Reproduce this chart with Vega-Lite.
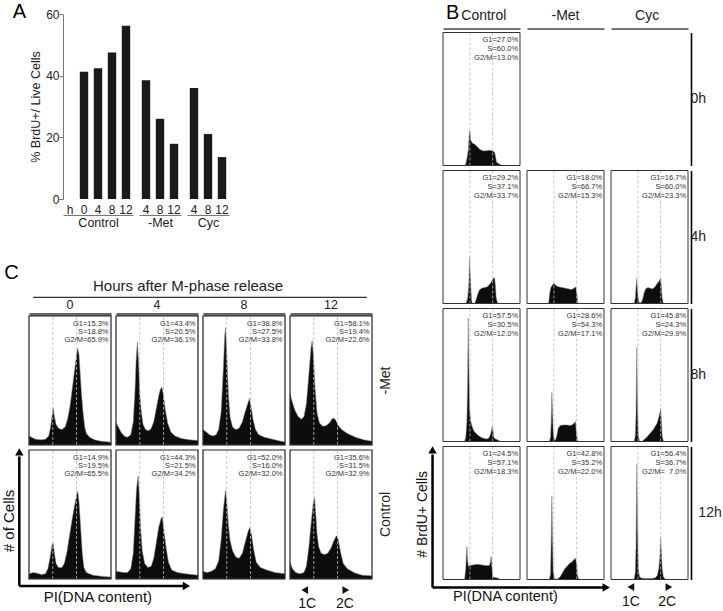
{
 "$schema": "https://vega.github.io/schema/vega-lite/v6.json",
 "padding": {"left": 2, "top": 2, "right": 0, "bottom": 0},
 "config": {"view": {"stroke": null}, "font": "Liberation Sans", "axis": {"grid": false}, "title": {"fontWeight": "normal", "font": "Liberation Sans"}, "header": {"labelFont": "Liberation Sans", "titleFont": "Liberation Sans"}},
 "datasets": {
  "a": [{"g":"Control","h":"0","v":41.3},{"g":"Control","h":"4","v":42.4},{"g":"Control","h":"8","v":47.5},{"g":"Control","h":"12","v":56.2},{"g":"-Met","h":"4","v":38.5},{"g":"-Met","h":"8","v":26.0},{"g":"-Met","h":"12","v":17.9},{"g":"Cyc","h":"4","v":36.0},{"g":"Cyc","h":"8","v":21.1},{"g":"Cyc","h":"12","v":13.6}],
  "bh": [{"c":"Control"},{"c":"-Met"},{"c":"Cyc"}],
  "b": [
   {"c":"Control","t":"0h","lab":["G1=27.0%","S=60.0%","G2/M=13.0%"]},
   {"c":"-Met","t":"0h"},
   {"c":"Cyc","t":"0h"},
   {"c":"Control","t":"4h","lab":["G1=29.2%","S=37.1%","G2/M=33.7%"]},
   {"c":"-Met","t":"4h","lab":["G1=18.0%","S=66.7%","G2/M=15.3%"]},
   {"c":"Cyc","t":"4h","lab":["G1=16.7%","S=60.0%","G2/M=23.3%"]},
   {"c":"Control","t":"8h","lab":["G1=57.5%","S=30.5%","G2/M=12.0%"]},
   {"c":"-Met","t":"8h","lab":["G1=28.6%","S=54.3%","G2/M=17.1%"]},
   {"c":"Cyc","t":"8h","lab":["G1=45.8%","S=24.3%","G2/M=29.9%"]},
   {"c":"Control","t":"12h","lab":["G1=24.5%","S=57.1%","G2/M=18.3%"]},
   {"c":"-Met","t":"12h","lab":["G1=42.8%","S=35.2%","G2/M=22.0%"]},
   {"c":"Cyc","t":"12h","lab":["G1=56.4%","S=36.7%","G2/M=\u00a0\u00a07.0%"]},
   {"c":"Control","t":"0h","x":0,"y":0},{"c":"Control","t":"0h","x":29,"y":0},{"c":"Control","t":"0h","x":31,"y":5},{"c":"Control","t":"0h","x":33,"y":12},{"c":"Control","t":"0h","x":34.2,"y":25},{"c":"Control","t":"0h","x":35,"y":26},{"c":"Control","t":"0h","x":36,"y":19},{"c":"Control","t":"0h","x":38,"y":17},{"c":"Control","t":"0h","x":41,"y":16},{"c":"Control","t":"0h","x":44,"y":14.5},{"c":"Control","t":"0h","x":48,"y":12},{"c":"Control","t":"0h","x":52,"y":11},{"c":"Control","t":"0h","x":56,"y":11},{"c":"Control","t":"0h","x":60,"y":11.5},{"c":"Control","t":"0h","x":64,"y":11},{"c":"Control","t":"0h","x":67,"y":10},{"c":"Control","t":"0h","x":68.5,"y":6},{"c":"Control","t":"0h","x":69.5,"y":2.5},{"c":"Control","t":"0h","x":72,"y":1.5},{"c":"Control","t":"0h","x":75,"y":0.5},{"c":"Control","t":"0h","x":77,"y":0},{"c":"Control","t":"0h","x":100,"y":0},
   {"c":"Control","t":"4h","x":0,"y":0},{"c":"Control","t":"4h","x":30,"y":0},{"c":"Control","t":"4h","x":32,"y":4},{"c":"Control","t":"4h","x":33.5,"y":14},{"c":"Control","t":"4h","x":34.5,"y":35},{"c":"Control","t":"4h","x":35.5,"y":20},{"c":"Control","t":"4h","x":37,"y":3},{"c":"Control","t":"4h","x":38,"y":0},{"c":"Control","t":"4h","x":41,"y":0},{"c":"Control","t":"4h","x":43,"y":3},{"c":"Control","t":"4h","x":45,"y":7},{"c":"Control","t":"4h","x":47,"y":10},{"c":"Control","t":"4h","x":50,"y":11.5},{"c":"Control","t":"4h","x":54,"y":12},{"c":"Control","t":"4h","x":57,"y":12.5},{"c":"Control","t":"4h","x":60,"y":14},{"c":"Control","t":"4h","x":63,"y":16.5},{"c":"Control","t":"4h","x":65.5,"y":19},{"c":"Control","t":"4h","x":67,"y":19.5},{"c":"Control","t":"4h","x":68,"y":14},{"c":"Control","t":"4h","x":69,"y":5},{"c":"Control","t":"4h","x":70.5,"y":1},{"c":"Control","t":"4h","x":72,"y":0},{"c":"Control","t":"4h","x":100,"y":0},
   {"c":"-Met","t":"4h","x":0,"y":0},{"c":"-Met","t":"4h","x":28,"y":0},{"c":"-Met","t":"4h","x":29.5,"y":8},{"c":"-Met","t":"4h","x":31,"y":12},{"c":"-Met","t":"4h","x":33,"y":14},{"c":"-Met","t":"4h","x":35,"y":15},{"c":"-Met","t":"4h","x":37,"y":14},{"c":"-Met","t":"4h","x":39,"y":13},{"c":"-Met","t":"4h","x":42,"y":12.5},{"c":"-Met","t":"4h","x":46,"y":12},{"c":"-Met","t":"4h","x":50,"y":11.5},{"c":"-Met","t":"4h","x":54,"y":11},{"c":"-Met","t":"4h","x":57,"y":10.5},{"c":"-Met","t":"4h","x":60,"y":11},{"c":"-Met","t":"4h","x":62,"y":12},{"c":"-Met","t":"4h","x":63.5,"y":12.5},{"c":"-Met","t":"4h","x":65,"y":6},{"c":"-Met","t":"4h","x":66,"y":0},{"c":"-Met","t":"4h","x":100,"y":0},
   {"c":"Cyc","t":"4h","x":0,"y":0},{"c":"Cyc","t":"4h","x":30,"y":0},{"c":"Cyc","t":"4h","x":31.5,"y":4},{"c":"Cyc","t":"4h","x":32.5,"y":12},{"c":"Cyc","t":"4h","x":33.3,"y":19},{"c":"Cyc","t":"4h","x":34.2,"y":12},{"c":"Cyc","t":"4h","x":35.5,"y":3},{"c":"Cyc","t":"4h","x":37,"y":0.5},{"c":"Cyc","t":"4h","x":39,"y":0.5},{"c":"Cyc","t":"4h","x":41,"y":3},{"c":"Cyc","t":"4h","x":43,"y":8},{"c":"Cyc","t":"4h","x":45,"y":11},{"c":"Cyc","t":"4h","x":48,"y":12},{"c":"Cyc","t":"4h","x":51,"y":11.5},{"c":"Cyc","t":"4h","x":54,"y":11},{"c":"Cyc","t":"4h","x":57,"y":12.5},{"c":"Cyc","t":"4h","x":60,"y":15},{"c":"Cyc","t":"4h","x":62.5,"y":17},{"c":"Cyc","t":"4h","x":64.5,"y":19},{"c":"Cyc","t":"4h","x":65.5,"y":12},{"c":"Cyc","t":"4h","x":66.5,"y":4},{"c":"Cyc","t":"4h","x":68,"y":0},{"c":"Cyc","t":"4h","x":100,"y":0},
   {"c":"Control","t":"8h","x":0,"y":0},{"c":"Control","t":"8h","x":28,"y":0},{"c":"Control","t":"8h","x":29.5,"y":3},{"c":"Control","t":"8h","x":31,"y":15},{"c":"Control","t":"8h","x":32,"y":45},{"c":"Control","t":"8h","x":32.7,"y":93},{"c":"Control","t":"8h","x":33.5,"y":60},{"c":"Control","t":"8h","x":34.5,"y":25},{"c":"Control","t":"8h","x":36,"y":15},{"c":"Control","t":"8h","x":38,"y":11},{"c":"Control","t":"8h","x":40,"y":8},{"c":"Control","t":"8h","x":43,"y":6},{"c":"Control","t":"8h","x":46,"y":4.5},{"c":"Control","t":"8h","x":50,"y":3},{"c":"Control","t":"8h","x":55,"y":2},{"c":"Control","t":"8h","x":58,"y":2},{"c":"Control","t":"8h","x":60,"y":3},{"c":"Control","t":"8h","x":62,"y":6},{"c":"Control","t":"8h","x":64,"y":11.5},{"c":"Control","t":"8h","x":65,"y":8},{"c":"Control","t":"8h","x":66,"y":3},{"c":"Control","t":"8h","x":68,"y":2},{"c":"Control","t":"8h","x":72,"y":1},{"c":"Control","t":"8h","x":75,"y":0},{"c":"Control","t":"8h","x":100,"y":0},
   {"c":"-Met","t":"8h","x":0,"y":0},{"c":"-Met","t":"8h","x":29,"y":0},{"c":"-Met","t":"8h","x":30.5,"y":3},{"c":"-Met","t":"8h","x":31.5,"y":15},{"c":"-Met","t":"8h","x":32.3,"y":37},{"c":"-Met","t":"8h","x":33,"y":25},{"c":"-Met","t":"8h","x":34,"y":8},{"c":"-Met","t":"8h","x":35,"y":2},{"c":"-Met","t":"8h","x":37,"y":1},{"c":"-Met","t":"8h","x":38.5,"y":4},{"c":"-Met","t":"8h","x":40.5,"y":10},{"c":"-Met","t":"8h","x":43,"y":12},{"c":"-Met","t":"8h","x":47,"y":12.5},{"c":"-Met","t":"8h","x":52,"y":12.5},{"c":"-Met","t":"8h","x":56,"y":12},{"c":"-Met","t":"8h","x":60,"y":13},{"c":"-Met","t":"8h","x":62,"y":14.5},{"c":"-Met","t":"8h","x":63,"y":15},{"c":"-Met","t":"8h","x":64,"y":8},{"c":"-Met","t":"8h","x":65.5,"y":1},{"c":"-Met","t":"8h","x":67,"y":0},{"c":"-Met","t":"8h","x":100,"y":0},
   {"c":"Cyc","t":"8h","x":0,"y":0},{"c":"Cyc","t":"8h","x":30,"y":0},{"c":"Cyc","t":"8h","x":31.5,"y":4},{"c":"Cyc","t":"8h","x":32.5,"y":20},{"c":"Cyc","t":"8h","x":33.5,"y":71},{"c":"Cyc","t":"8h","x":34.3,"y":30},{"c":"Cyc","t":"8h","x":35.5,"y":4},{"c":"Cyc","t":"8h","x":37,"y":0.5},{"c":"Cyc","t":"8h","x":40,"y":0},{"c":"Cyc","t":"8h","x":43,"y":1.5},{"c":"Cyc","t":"8h","x":46,"y":3},{"c":"Cyc","t":"8h","x":49,"y":5},{"c":"Cyc","t":"8h","x":52,"y":7},{"c":"Cyc","t":"8h","x":55,"y":9},{"c":"Cyc","t":"8h","x":58,"y":12},{"c":"Cyc","t":"8h","x":60,"y":14},{"c":"Cyc","t":"8h","x":62,"y":18},{"c":"Cyc","t":"8h","x":63.5,"y":22},{"c":"Cyc","t":"8h","x":64.5,"y":25},{"c":"Cyc","t":"8h","x":65.5,"y":15},{"c":"Cyc","t":"8h","x":66.5,"y":4},{"c":"Cyc","t":"8h","x":68,"y":0.5},{"c":"Cyc","t":"8h","x":70,"y":0},{"c":"Cyc","t":"8h","x":100,"y":0},
   {"c":"Control","t":"12h","x":0,"y":0},{"c":"Control","t":"12h","x":28,"y":0},{"c":"Control","t":"12h","x":29.5,"y":8},{"c":"Control","t":"12h","x":31,"y":25},{"c":"Control","t":"12h","x":32,"y":14},{"c":"Control","t":"12h","x":33,"y":10},{"c":"Control","t":"12h","x":35,"y":10.5},{"c":"Control","t":"12h","x":40,"y":11},{"c":"Control","t":"12h","x":45,"y":11.5},{"c":"Control","t":"12h","x":50,"y":11},{"c":"Control","t":"12h","x":55,"y":10.5},{"c":"Control","t":"12h","x":60,"y":10.5},{"c":"Control","t":"12h","x":61.5,"y":13},{"c":"Control","t":"12h","x":62.5,"y":17.5},{"c":"Control","t":"12h","x":63.5,"y":10},{"c":"Control","t":"12h","x":64.5,"y":2},{"c":"Control","t":"12h","x":67,"y":1.5},{"c":"Control","t":"12h","x":72,"y":1},{"c":"Control","t":"12h","x":74,"y":0},{"c":"Control","t":"12h","x":100,"y":0},
   {"c":"-Met","t":"12h","x":0,"y":0},{"c":"-Met","t":"12h","x":29,"y":0},{"c":"-Met","t":"12h","x":30.5,"y":4},{"c":"-Met","t":"12h","x":31.5,"y":30},{"c":"-Met","t":"12h","x":32.3,"y":63},{"c":"-Met","t":"12h","x":33,"y":35},{"c":"-Met","t":"12h","x":34,"y":6},{"c":"-Met","t":"12h","x":35.5,"y":1},{"c":"-Met","t":"12h","x":38,"y":0},{"c":"-Met","t":"12h","x":40,"y":0.5},{"c":"-Met","t":"12h","x":43,"y":2},{"c":"-Met","t":"12h","x":46,"y":5},{"c":"-Met","t":"12h","x":49,"y":8},{"c":"-Met","t":"12h","x":52,"y":10},{"c":"-Met","t":"12h","x":55,"y":12},{"c":"-Met","t":"12h","x":58,"y":13},{"c":"-Met","t":"12h","x":61,"y":15},{"c":"-Met","t":"12h","x":63,"y":16},{"c":"-Met","t":"12h","x":64.5,"y":12},{"c":"-Met","t":"12h","x":65.5,"y":3},{"c":"-Met","t":"12h","x":67,"y":0.5},{"c":"-Met","t":"12h","x":69,"y":0},{"c":"-Met","t":"12h","x":100,"y":0},
   {"c":"Cyc","t":"12h","x":0,"y":0},{"c":"Cyc","t":"12h","x":30,"y":0},{"c":"Cyc","t":"12h","x":31.5,"y":5},{"c":"Cyc","t":"12h","x":32.5,"y":25},{"c":"Cyc","t":"12h","x":33.5,"y":87},{"c":"Cyc","t":"12h","x":34.5,"y":40},{"c":"Cyc","t":"12h","x":35.5,"y":8},{"c":"Cyc","t":"12h","x":37,"y":2},{"c":"Cyc","t":"12h","x":40,"y":1},{"c":"Cyc","t":"12h","x":45,"y":0.8},{"c":"Cyc","t":"12h","x":50,"y":0.8},{"c":"Cyc","t":"12h","x":55,"y":1},{"c":"Cyc","t":"12h","x":58,"y":1.5},{"c":"Cyc","t":"12h","x":60,"y":3},{"c":"Cyc","t":"12h","x":62,"y":8},{"c":"Cyc","t":"12h","x":63.5,"y":18},{"c":"Cyc","t":"12h","x":64.5,"y":32},{"c":"Cyc","t":"12h","x":65.5,"y":20},{"c":"Cyc","t":"12h","x":66.5,"y":8},{"c":"Cyc","t":"12h","x":68,"y":2},{"c":"Cyc","t":"12h","x":70,"y":0.5},{"c":"Cyc","t":"12h","x":72,"y":0},{"c":"Cyc","t":"12h","x":100,"y":0}
  ],
  "c": [
   {"r":"-Met","k":"0","lab":["G1=15.3%","S=18.8%","G2/M=65.9%"]},
   {"r":"-Met","k":"4","lab":["G1=43.4%","S=20.5%","G2/M=36.1%"]},
   {"r":"-Met","k":"8","lab":["G1=38.8%","S=27.5%","G2/M=33.8%"]},
   {"r":"-Met","k":"12","lab":["G1=58.1%","S=19.4%","G2/M=22.6%"]},
   {"r":"Control","k":"0","lab":["G1=14.9%","S=19.5%","G2/M=65.5%"]},
   {"r":"Control","k":"4","lab":["G1=44.3%","S=21.5%","G2/M=34.2%"]},
   {"r":"Control","k":"8","lab":["G1=52.0%","S=16.0%","G2/M=32.0%"]},
   {"r":"Control","k":"12","lab":["G1=35.6%","S=31.5%","G2/M=32.9%"]},
   {"r":"-Met","k":"0","x":0,"y":7},{"r":"-Met","k":"0","x":3,"y":6},{"r":"-Met","k":"0","x":8,"y":4.5},{"r":"-Met","k":"0","x":15,"y":4},{"r":"-Met","k":"0","x":20,"y":4.5},{"r":"-Met","k":"0","x":24,"y":7},{"r":"-Met","k":"0","x":26,"y":13},{"r":"-Met","k":"0","x":28,"y":22},{"r":"-Met","k":"0","x":29.5,"y":29},{"r":"-Met","k":"0","x":31,"y":22},{"r":"-Met","k":"0","x":33,"y":16},{"r":"-Met","k":"0","x":36,"y":13},{"r":"-Met","k":"0","x":40,"y":12},{"r":"-Met","k":"0","x":44,"y":14},{"r":"-Met","k":"0","x":47,"y":20},{"r":"-Met","k":"0","x":50,"y":30},{"r":"-Met","k":"0","x":53,"y":45},{"r":"-Met","k":"0","x":56,"y":60},{"r":"-Met","k":"0","x":58.5,"y":72},{"r":"-Met","k":"0","x":59.5,"y":75},{"r":"-Met","k":"0","x":61,"y":70},{"r":"-Met","k":"0","x":62.5,"y":55},{"r":"-Met","k":"0","x":64,"y":40},{"r":"-Met","k":"0","x":66,"y":25},{"r":"-Met","k":"0","x":68,"y":14},{"r":"-Met","k":"0","x":70,"y":9},{"r":"-Met","k":"0","x":74,"y":6},{"r":"-Met","k":"0","x":80,"y":4},{"r":"-Met","k":"0","x":88,"y":3},{"r":"-Met","k":"0","x":95,"y":2.5},{"r":"-Met","k":"0","x":100,"y":2},
   {"r":"-Met","k":"4","x":0,"y":17},{"r":"-Met","k":"4","x":3,"y":14},{"r":"-Met","k":"4","x":6,"y":10},{"r":"-Met","k":"4","x":10,"y":7},{"r":"-Met","k":"4","x":14,"y":6},{"r":"-Met","k":"4","x":18,"y":8},{"r":"-Met","k":"4","x":21,"y":18},{"r":"-Met","k":"4","x":23,"y":40},{"r":"-Met","k":"4","x":24.5,"y":65},{"r":"-Met","k":"4","x":26,"y":80},{"r":"-Met","k":"4","x":27.5,"y":65},{"r":"-Met","k":"4","x":29,"y":40},{"r":"-Met","k":"4","x":31,"y":25},{"r":"-Met","k":"4","x":33,"y":16},{"r":"-Met","k":"4","x":36,"y":12},{"r":"-Met","k":"4","x":40,"y":11},{"r":"-Met","k":"4","x":43,"y":13},{"r":"-Met","k":"4","x":46,"y":18},{"r":"-Met","k":"4","x":49,"y":28},{"r":"-Met","k":"4","x":52,"y":38},{"r":"-Met","k":"4","x":54,"y":43},{"r":"-Met","k":"4","x":56,"y":45},{"r":"-Met","k":"4","x":57.5,"y":40},{"r":"-Met","k":"4","x":60,"y":28},{"r":"-Met","k":"4","x":63,"y":17},{"r":"-Met","k":"4","x":67,"y":10},{"r":"-Met","k":"4","x":72,"y":7},{"r":"-Met","k":"4","x":80,"y":5},{"r":"-Met","k":"4","x":90,"y":4},{"r":"-Met","k":"4","x":100,"y":3.5},
   {"r":"-Met","k":"8","x":0,"y":12},{"r":"-Met","k":"8","x":4,"y":10},{"r":"-Met","k":"8","x":8,"y":8},{"r":"-Met","k":"8","x":12,"y":7},{"r":"-Met","k":"8","x":16,"y":8},{"r":"-Met","k":"8","x":19,"y":12},{"r":"-Met","k":"8","x":22,"y":25},{"r":"-Met","k":"8","x":24.5,"y":55},{"r":"-Met","k":"8","x":26.5,"y":85},{"r":"-Met","k":"8","x":27.5,"y":91},{"r":"-Met","k":"8","x":29,"y":70},{"r":"-Met","k":"8","x":31,"y":40},{"r":"-Met","k":"8","x":33,"y":22},{"r":"-Met","k":"8","x":36,"y":14},{"r":"-Met","k":"8","x":40,"y":12},{"r":"-Met","k":"8","x":44,"y":13},{"r":"-Met","k":"8","x":48,"y":18},{"r":"-Met","k":"8","x":51,"y":25},{"r":"-Met","k":"8","x":54,"y":31},{"r":"-Met","k":"8","x":56.5,"y":36},{"r":"-Met","k":"8","x":58,"y":32},{"r":"-Met","k":"8","x":61,"y":20},{"r":"-Met","k":"8","x":64,"y":12},{"r":"-Met","k":"8","x":68,"y":8},{"r":"-Met","k":"8","x":75,"y":6},{"r":"-Met","k":"8","x":85,"y":4.5},{"r":"-Met","k":"8","x":95,"y":3},{"r":"-Met","k":"8","x":100,"y":2.5},
   {"r":"-Met","k":"12","x":0,"y":40},{"r":"-Met","k":"12","x":3,"y":33},{"r":"-Met","k":"12","x":6,"y":27},{"r":"-Met","k":"12","x":10,"y":22},{"r":"-Met","k":"12","x":14,"y":20},{"r":"-Met","k":"12","x":17,"y":22},{"r":"-Met","k":"12","x":20,"y":32},{"r":"-Met","k":"12","x":23,"y":55},{"r":"-Met","k":"12","x":25.5,"y":75},{"r":"-Met","k":"12","x":27,"y":81},{"r":"-Met","k":"12","x":28.5,"y":70},{"r":"-Met","k":"12","x":30.5,"y":45},{"r":"-Met","k":"12","x":33,"y":25},{"r":"-Met","k":"12","x":36,"y":17},{"r":"-Met","k":"12","x":40,"y":14.5},{"r":"-Met","k":"12","x":44,"y":15},{"r":"-Met","k":"12","x":48,"y":17},{"r":"-Met","k":"12","x":51,"y":20},{"r":"-Met","k":"12","x":53.5,"y":21},{"r":"-Met","k":"12","x":56,"y":19},{"r":"-Met","k":"12","x":59,"y":15},{"r":"-Met","k":"12","x":63,"y":12},{"r":"-Met","k":"12","x":70,"y":9},{"r":"-Met","k":"12","x":80,"y":6},{"r":"-Met","k":"12","x":90,"y":4},{"r":"-Met","k":"12","x":100,"y":3},
   {"r":"Control","k":"0","x":0,"y":4},{"r":"Control","k":"0","x":5,"y":5},{"r":"Control","k":"0","x":10,"y":4.5},{"r":"Control","k":"0","x":15,"y":3.5},{"r":"Control","k":"0","x":20,"y":4},{"r":"Control","k":"0","x":23,"y":8},{"r":"Control","k":"0","x":25.5,"y":16},{"r":"Control","k":"0","x":28,"y":26},{"r":"Control","k":"0","x":29.5,"y":28},{"r":"Control","k":"0","x":31,"y":20},{"r":"Control","k":"0","x":33,"y":12},{"r":"Control","k":"0","x":36,"y":9},{"r":"Control","k":"0","x":40,"y":9},{"r":"Control","k":"0","x":43,"y":12},{"r":"Control","k":"0","x":46,"y":20},{"r":"Control","k":"0","x":49,"y":32},{"r":"Control","k":"0","x":52,"y":44},{"r":"Control","k":"0","x":55,"y":55},{"r":"Control","k":"0","x":58,"y":65},{"r":"Control","k":"0","x":59.5,"y":68},{"r":"Control","k":"0","x":61,"y":60},{"r":"Control","k":"0","x":63,"y":40},{"r":"Control","k":"0","x":65,"y":20},{"r":"Control","k":"0","x":67,"y":9},{"r":"Control","k":"0","x":70,"y":5},{"r":"Control","k":"0","x":78,"y":3},{"r":"Control","k":"0","x":90,"y":2},{"r":"Control","k":"0","x":100,"y":1.5},
   {"r":"Control","k":"4","x":0,"y":6},{"r":"Control","k":"4","x":5,"y":5.5},{"r":"Control","k":"4","x":10,"y":5},{"r":"Control","k":"4","x":14,"y":5},{"r":"Control","k":"4","x":18,"y":8},{"r":"Control","k":"4","x":21,"y":20},{"r":"Control","k":"4","x":23,"y":45},{"r":"Control","k":"4","x":25,"y":70},{"r":"Control","k":"4","x":27,"y":80},{"r":"Control","k":"4","x":28.5,"y":65},{"r":"Control","k":"4","x":30,"y":40},{"r":"Control","k":"4","x":32,"y":22},{"r":"Control","k":"4","x":35,"y":12},{"r":"Control","k":"4","x":39,"y":9},{"r":"Control","k":"4","x":43,"y":10},{"r":"Control","k":"4","x":46,"y":16},{"r":"Control","k":"4","x":49,"y":28},{"r":"Control","k":"4","x":52,"y":40},{"r":"Control","k":"4","x":55,"y":47},{"r":"Control","k":"4","x":56.5,"y":48},{"r":"Control","k":"4","x":58,"y":40},{"r":"Control","k":"4","x":61,"y":25},{"r":"Control","k":"4","x":64,"y":13},{"r":"Control","k":"4","x":68,"y":7},{"r":"Control","k":"4","x":75,"y":5},{"r":"Control","k":"4","x":85,"y":4},{"r":"Control","k":"4","x":100,"y":3},
   {"r":"Control","k":"8","x":0,"y":6},{"r":"Control","k":"8","x":5,"y":5},{"r":"Control","k":"8","x":10,"y":6},{"r":"Control","k":"8","x":15,"y":8},{"r":"Control","k":"8","x":19,"y":14},{"r":"Control","k":"8","x":22,"y":30},{"r":"Control","k":"8","x":25,"y":55},{"r":"Control","k":"8","x":27.5,"y":69},{"r":"Control","k":"8","x":29,"y":60},{"r":"Control","k":"8","x":31,"y":42},{"r":"Control","k":"8","x":33,"y":30},{"r":"Control","k":"8","x":36,"y":22},{"r":"Control","k":"8","x":40,"y":17},{"r":"Control","k":"8","x":44,"y":16},{"r":"Control","k":"8","x":48,"y":20},{"r":"Control","k":"8","x":52,"y":30},{"r":"Control","k":"8","x":55,"y":37},{"r":"Control","k":"8","x":57,"y":40},{"r":"Control","k":"8","x":59,"y":35},{"r":"Control","k":"8","x":62,"y":22},{"r":"Control","k":"8","x":65,"y":13},{"r":"Control","k":"8","x":70,"y":9},{"r":"Control","k":"8","x":78,"y":7},{"r":"Control","k":"8","x":88,"y":5},{"r":"Control","k":"8","x":100,"y":4},
   {"r":"Control","k":"12","x":0,"y":13},{"r":"Control","k":"12","x":3,"y":8},{"r":"Control","k":"12","x":7,"y":5},{"r":"Control","k":"12","x":12,"y":4},{"r":"Control","k":"12","x":17,"y":5},{"r":"Control","k":"12","x":20,"y":10},{"r":"Control","k":"12","x":23,"y":25},{"r":"Control","k":"12","x":26,"y":45},{"r":"Control","k":"12","x":28.5,"y":60},{"r":"Control","k":"12","x":30,"y":63},{"r":"Control","k":"12","x":31.5,"y":50},{"r":"Control","k":"12","x":33,"y":35},{"r":"Control","k":"12","x":35,"y":25},{"r":"Control","k":"12","x":38,"y":20},{"r":"Control","k":"12","x":42,"y":19},{"r":"Control","k":"12","x":46,"y":20},{"r":"Control","k":"12","x":50,"y":24},{"r":"Control","k":"12","x":53,"y":29},{"r":"Control","k":"12","x":56,"y":33},{"r":"Control","k":"12","x":57.5,"y":33.5},{"r":"Control","k":"12","x":59,"y":30},{"r":"Control","k":"12","x":62,"y":20},{"r":"Control","k":"12","x":65,"y":12},{"r":"Control","k":"12","x":70,"y":8},{"r":"Control","k":"12","x":78,"y":5},{"r":"Control","k":"12","x":88,"y":3},{"r":"Control","k":"12","x":100,"y":2.5}
  ]
 },
 "hconcat": [
  {
   "vconcat": [
    {
     "title": {"text": "A", "anchor": "start", "fontSize": 20, "fontWeight": "normal", "dx": -14, "offset": -14},
     "spacing": -4,
     "hconcat": [
      {"width": 1, "height": 1, "data": {"values": [{"d": 1}]}, "mark": {"type": "point", "opacity": 0}},
      {
       "data": {"name": "a"},
       "spacing": 6,
       "hconcat": [
        {"width": 70, "height": 185, "transform": [{"filter": "datum.g == 'Control'"}],
         "mark": {"type": "bar", "color": "#1a1a1a"},
         "encoding": {
          "x": {"field": "h", "type": "ordinal", "sort": null, "scale": {"domain": ["h","0","4","8","12"], "paddingInner": 0.4, "paddingOuter": 0.2},
                "axis": {"orient": "bottom", "offset": 16, "domainColor": "#777777", "ticks": false, "labelPadding": -11, "labelFontSize": 12, "labelAngle": 0, "labelColor": "#222222", "title": "Control", "titleFontSize": 12.5, "titleFontWeight": "normal", "titlePadding": 1, "titleColor": "#222222"}},
          "y": {"field": "v", "type": "quantitative", "scale": {"domain": [0, 60]},
                "axis": {"values": [0,20,40,60], "title": "% BrdU+/ Live Cells", "titleFontSize": 12.5, "titleFontWeight": "normal", "titleColor": "#222222", "titlePadding": 3, "labelFontSize": 12, "labelColor": "#222222", "tickSize": 4, "labelPadding": 0, "domainColor": "#777777", "tickColor": "#777777"}}}},
        {"width": 42, "height": 185, "transform": [{"filter": "datum.g == '-Met'"}],
         "mark": {"type": "bar", "color": "#1a1a1a"},
         "encoding": {
          "x": {"field": "h", "type": "ordinal", "sort": null, "scale": {"domain": ["4","8","12"], "paddingInner": 0.4, "paddingOuter": 0.2},
                "axis": {"orient": "bottom", "offset": 16, "domainColor": "#777777", "ticks": false, "labelPadding": -11, "labelFontSize": 12, "labelAngle": 0, "labelColor": "#222222", "title": "-Met", "titleFontSize": 12.5, "titleFontWeight": "normal", "titlePadding": 1, "titleColor": "#222222"}},
          "y": {"field": "v", "type": "quantitative", "scale": {"domain": [0, 60]}, "axis": null}}},
        {"width": 42, "height": 185, "transform": [{"filter": "datum.g == 'Cyc'"}],
         "mark": {"type": "bar", "color": "#1a1a1a"},
         "encoding": {
          "x": {"field": "h", "type": "ordinal", "sort": null, "scale": {"domain": ["4","8","12"], "paddingInner": 0.4, "paddingOuter": 0.2},
                "axis": {"orient": "bottom", "offset": 16, "domainColor": "#777777", "ticks": false, "labelPadding": -11, "labelFontSize": 12, "labelAngle": 0, "labelColor": "#222222", "title": "Cyc", "titleFontSize": 12.5, "titleFontWeight": "normal", "titlePadding": 1, "titleColor": "#222222"}},
          "y": {"field": "v", "type": "quantitative", "scale": {"domain": [0, 60]}, "axis": null}}}
       ]
      }
     ]
    },
    {
     "title": {"text": "C", "anchor": "start", "fontSize": 20, "fontWeight": "normal", "dx": 2, "offset": -4},
     "data": {"name": "c"},
     "bounds": "flush",
     "spacing": {"row": 5, "column": 5},
     "facet": {
      "row": {"field": "r", "sort": ["-Met", "Control"], "header": {"title": null, "labelOrient": "right", "labelAngle": -90, "labelFontSize": 14, "labelPadding": 0, "labelColor": "#222222"}},
      "column": {"field": "k", "sort": ["0", "4", "8", "12"], "header": {"title": "Hours after M-phase release", "titleFontSize": 15, "titleFontWeight": "normal", "titleColor": "#222222", "titlePadding": -6, "labelFontSize": 12.5, "labelPadding": 3, "labelColor": "#222222"}}
     },
     "spec": {
      "width": 82, "height": 129,
      "layer": [
       {"transform": [{"filter": "isValid(datum.x)"}],
        "mark": {"type": "area", "color": "#0d0d0d", "stroke": "#8a8a8a", "strokeWidth": 0.5},
        "encoding": {
         "x": {"field": "x", "type": "quantitative", "scale": {"domain": [0, 100], "nice": false}, "axis": {"orient": "top", "labels": false, "ticks": false, "grid": false, "title": null, "domainColor": "#666666", "domainWidth": 3, "offset": 2}},
         "y": {"field": "y", "type": "quantitative", "scale": {"domain": [0, 100], "nice": false}, "axis": null}}},
       {"transform": [{"filter": "datum.lab != null"}], "mark": {"type": "rule", "color": "#bbbbbb", "strokeDash": [3, 2], "strokeWidth": 0.8}, "encoding": {"x": {"datum": 29}, "y": {"datum": 0}, "y2": {"datum": 100}}},
       {"transform": [{"filter": "datum.lab != null"}], "mark": {"type": "rule", "color": "#bbbbbb", "strokeDash": [3, 2], "strokeWidth": 0.8}, "encoding": {"x": {"datum": 58}, "y": {"datum": 0}, "y2": {"datum": 100}}},
       {"transform": [{"filter": "datum.lab != null"}], "mark": {"type": "rect", "fillOpacity": 0, "stroke": "#222222", "strokeWidth": 1.2}, "encoding": {"x": {"datum": 0}, "x2": {"datum": 100}, "y": {"datum": 0}, "y2": {"datum": 100}}},
       {"transform": [{"filter": "datum.lab != null"}], "mark": {"type": "text", "align": "right", "baseline": "top", "fontSize": 7.5, "lineHeight": 8.2, "color": "#333333"}, "encoding": {"x": {"datum": 97}, "y": {"datum": 97}, "text": {"field": "lab", "type": "nominal"}}},
       {"transform": [{"filter": "datum.lab != null && datum.r == '-Met' && datum.k == '0'"}], "mark": {"type": "rule", "color": "#333333", "strokeWidth": 1.3}, "encoding": {"x": {"datum": 5}, "x2": {"datum": 412}, "y": {"datum": 114.5}}},
       {"transform": [{"filter": "datum.lab != null && datum.r == 'Control' && datum.k == '0'"}], "mark": {"type": "rule", "color": "#000000", "strokeWidth": 2.5}, "encoding": {"x": {"datum": -11.8}, "y": {"datum": -5.4}, "y2": {"datum": 95}}},
       {"transform": [{"filter": "datum.lab != null && datum.r == 'Control' && datum.k == '0'"}], "mark": {"type": "rule", "color": "#000000", "strokeWidth": 2.5}, "encoding": {"x": {"datum": -11.8}, "x2": {"datum": 189}, "y": {"datum": -5.4}}},
       {"transform": [{"filter": "datum.lab != null && datum.r == 'Control' && datum.k == '0'"}], "mark": {"type": "point", "shape": "triangle-up", "filled": true, "color": "#000000", "opacity": 1, "size": 70}, "encoding": {"x": {"datum": -11.8}, "y": {"datum": 98.5}}},
       {"transform": [{"filter": "datum.lab != null && datum.r == 'Control' && datum.k == '0'"}], "mark": {"type": "point", "shape": "triangle-right", "filled": true, "color": "#000000", "opacity": 1, "size": 70}, "encoding": {"x": {"datum": 192}, "y": {"datum": -5.4}}},
       {"transform": [{"filter": "datum.lab != null && datum.r == 'Control' && datum.k == '0'"}], "mark": {"type": "text", "fontSize": 15, "color": "#111111"}, "encoding": {"x": {"datum": 84}, "y": {"datum": -14}, "text": {"value": "PI(DNA content)"}}},
       {"transform": [{"filter": "datum.lab != null && datum.r == 'Control' && datum.k == '0'"}], "mark": {"type": "text", "fontSize": 15, "angle": 270, "color": "#111111"}, "encoding": {"x": {"datum": -24}, "y": {"datum": 45}, "text": {"value": "# of Cells"}}},
       {"transform": [{"filter": "datum.lab != null && datum.r == 'Control' && datum.k == '12'"}], "mark": {"type": "text", "fontSize": 14, "color": "#111111"}, "encoding": {"x": {"datum": 21}, "y": {"datum": -19.5}, "text": {"value": "1C"}}},
       {"transform": [{"filter": "datum.lab != null && datum.r == 'Control' && datum.k == '12'"}], "mark": {"type": "text", "fontSize": 14, "color": "#111111"}, "encoding": {"x": {"datum": 67}, "y": {"datum": -19.5}, "text": {"value": "2C"}}},
       {"transform": [{"filter": "datum.lab != null && datum.r == 'Control' && datum.k == '12'"}], "mark": {"type": "point", "shape": "triangle-up", "filled": true, "color": "#111111", "opacity": 1, "size": 60, "angle": 30}, "encoding": {"x": {"datum": 20}, "y": {"datum": -7.8}}},
       {"transform": [{"filter": "datum.lab != null && datum.r == 'Control' && datum.k == '12'"}], "mark": {"type": "point", "shape": "triangle-up", "filled": true, "color": "#111111", "opacity": 1, "size": 60, "angle": -30}, "encoding": {"x": {"datum": 66}, "y": {"datum": -7.8}}}
      ]
     }
    }
   ],
   "spacing": 34
  },
  {
   "vconcat": [
    {
     "title": {"text": "B", "anchor": "start", "frame": "group", "fontSize": 20, "fontWeight": "normal", "dx": 3, "offset": -14},
     "data": {"name": "bh"},
     "width": 245, "height": 3,
     "mark": {"type": "text", "fontSize": 14, "color": "#222222", "baseline": "middle"},
     "encoding": {
      "x": {"field": "c", "type": "nominal", "sort": ["Control", "-Met", "Cyc"], "scale": {"paddingInner": 0.0833, "paddingOuter": 0}, "axis": null},
      "text": {"field": "c", "type": "nominal"}}
    },
    {
     "data": {"name": "b"},
     "bounds": "flush",
     "spacing": {"row": 5, "column": 7},
     "facet": {
      "row": {"field": "t", "sort": ["0h", "4h", "8h", "12h"], "header": {"title": null, "labelOrient": "right", "labelAngle": 0, "labelAlign": "left", "labelFontSize": 14, "labelPadding": -16, "labelColor": "#222222"}},
      "column": {"field": "c", "sort": ["Control", "-Met", "Cyc"], "header": {"title": null, "labels": false}}
     },
     "spec": {
      "width": 77, "height": 133,
      "layer": [
       {"transform": [{"filter": "isValid(datum.x)"}],
        "mark": {"type": "area", "color": "#0d0d0d", "stroke": "#8a8a8a", "strokeWidth": 0.5},
        "encoding": {
         "x": {"field": "x", "type": "quantitative", "scale": {"domain": [0, 100], "nice": false}, "axis": {"orient": "top", "labels": false, "ticks": false, "grid": false, "title": null, "domainColor": "#444444", "domainWidth": 1.3, "offset": 4}},
         "y": {"field": "y", "type": "quantitative", "scale": {"domain": [0, 100], "nice": false}, "axis": {"orient": "right", "labels": false, "ticks": false, "grid": false, "title": null, "domainColor": "#000000", "domainWidth": 1.6, "offset": 3, "minExtent": 0}}}},
       {"transform": [{"filter": "datum.lab != null"}], "mark": {"type": "rule", "color": "#bbbbbb", "strokeDash": [3, 2], "strokeWidth": 0.8}, "encoding": {"x": {"datum": 35}, "y": {"datum": 0}, "y2": {"datum": 100}}},
       {"transform": [{"filter": "datum.lab != null"}], "mark": {"type": "rule", "color": "#bbbbbb", "strokeDash": [3, 2], "strokeWidth": 0.8}, "encoding": {"x": {"datum": 64.5}, "y": {"datum": 0}, "y2": {"datum": 100}}},
       {"transform": [{"filter": "datum.lab != null"}], "mark": {"type": "rect", "fillOpacity": 0, "stroke": "#333333", "strokeWidth": 1}, "encoding": {"x": {"datum": 0}, "x2": {"datum": 100}, "y": {"datum": 0}, "y2": {"datum": 100}}},
       {"transform": [{"filter": "datum.lab != null"}], "mark": {"type": "text", "align": "right", "baseline": "top", "fontSize": 7.5, "lineHeight": 8.7, "color": "#333333"}, "encoding": {"x": {"datum": 97.5}, "y": {"datum": 97}, "text": {"field": "lab", "type": "nominal"}}},
       {"transform": [{"filter": "datum.lab != null && datum.c == 'Control' && datum.t == '12h'"}], "mark": {"type": "rule", "color": "#000000", "strokeWidth": 2.5}, "encoding": {"x": {"datum": -13.6}, "y": {"datum": -6}, "y2": {"datum": 94}}},
       {"transform": [{"filter": "datum.lab != null && datum.c == 'Control' && datum.t == '12h'"}], "mark": {"type": "rule", "color": "#000000", "strokeWidth": 2.5}, "encoding": {"x": {"datum": -13.6}, "x2": {"datum": 209}, "y": {"datum": -6}}},
       {"transform": [{"filter": "datum.lab != null && datum.c == 'Control' && datum.t == '12h'"}], "mark": {"type": "point", "shape": "triangle-up", "filled": true, "color": "#000000", "opacity": 1, "size": 70}, "encoding": {"x": {"datum": -13.6}, "y": {"datum": 97.5}}},
       {"transform": [{"filter": "datum.lab != null && datum.c == 'Control' && datum.t == '12h'"}], "mark": {"type": "point", "shape": "triangle-right", "filled": true, "color": "#000000", "opacity": 1, "size": 70}, "encoding": {"x": {"datum": 212}, "y": {"datum": -6}}},
       {"transform": [{"filter": "datum.lab != null && datum.c == 'Control' && datum.t == '12h'"}], "mark": {"type": "text", "fontSize": 14.5, "color": "#111111"}, "encoding": {"x": {"datum": 81}, "y": {"datum": -13.5}, "text": {"value": "PI(DNA content)"}}},
       {"transform": [{"filter": "datum.lab != null && datum.c == 'Control' && datum.t == '12h'"}], "mark": {"type": "text", "fontSize": 14, "angle": 270, "color": "#111111"}, "encoding": {"x": {"datum": -26}, "y": {"datum": 49}, "text": {"value": "# BrdU+ Cells"}}},
       {"transform": [{"filter": "datum.lab != null && datum.c == 'Cyc' && datum.t == '12h'"}], "mark": {"type": "text", "fontSize": 14, "color": "#111111"}, "encoding": {"x": {"datum": 26}, "y": {"datum": -17}, "text": {"value": "1C"}}},
       {"transform": [{"filter": "datum.lab != null && datum.c == 'Cyc' && datum.t == '12h'"}], "mark": {"type": "text", "fontSize": 14, "color": "#111111"}, "encoding": {"x": {"datum": 73}, "y": {"datum": -17}, "text": {"value": "2C"}}},
       {"transform": [{"filter": "datum.lab != null && datum.c == 'Cyc' && datum.t == '12h'"}], "mark": {"type": "point", "shape": "triangle-up", "filled": true, "color": "#111111", "opacity": 1, "size": 60, "angle": 30}, "encoding": {"x": {"datum": 28}, "y": {"datum": -5}}},
       {"transform": [{"filter": "datum.lab != null && datum.c == 'Cyc' && datum.t == '12h'"}], "mark": {"type": "point", "shape": "triangle-up", "filled": true, "color": "#111111", "opacity": 1, "size": 60, "angle": -30}, "encoding": {"x": {"datum": 73}, "y": {"datum": -5}}}
      ]
     }
    }
   ],
   "spacing": 5.5
  }
 ],
 "spacing": 22
}
